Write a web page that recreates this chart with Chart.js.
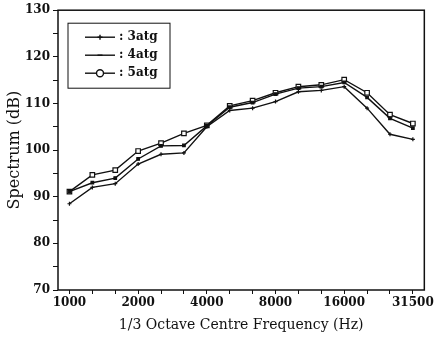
<!DOCTYPE html>
<html>
<head>
<meta charset="utf-8">
<script src="https://cdn.jsdelivr.net/npm/chart.js@4"></script>
<style>
html, body { margin: 0; padding: 0; background: #fff; }
#wrap { width: 436px; height: 338px; }
</style>
</head>
<body>
<div id="wrap"><canvas id="chart"></canvas></div>
<script>
// 1/3 octave bands
const freqs = ['1000', '1250', '1600', '2000', '2500', '3150', '4000', '5000', '6300', '8000', '10000', '12500', '16000', '20000', '25000', '31500'];
const labeledFreqs = ['1000', '2000', '4000', '8000', '16000', '31500'];
const yTicks = [70, 80, 90, 100, 110, 120, 130];

// Spectrum levels (dB)
const atg3 = [88.5, 92, 92.8, 97, 99.1, 99.4, 105, 108.5, 109, 110.4, 112.5, 112.8, 113.6, 109, 103.4, 102.3];
const atg4 = [91.1, 93, 94, 98.1, 100.9, 101, 105.2, 109.2, 110.2, 112, 113.3, 113.6, 114.5, 111.3, 106.8, 104.7];
const atg5 = [91.1, 94.7, 95.7, 99.8, 101.5, 103.6, 105.3, 109.5, 110.6, 112.3, 113.6, 114, 115.1, 112.3, 107.6, 105.7];

const tickFont = { family: 'DejaVu Serif', size: 12, weight: 'bold' };

function series(label, data, style, radius, fill) {
    return {
        label: label,
        data: data,
        borderColor: '#111',
        borderWidth: 1.4,
        pointStyle: style,
        pointRadius: radius,
        pointBorderColor: '#111',
        pointBorderWidth: 1.2,
        pointBackgroundColor: fill,
        tension: 0
    };
}

// box around the plot area
const frame = {
    id: 'frame',
    afterDraw(chart) {
        const { ctx, chartArea: a } = chart;
        ctx.save();
        ctx.strokeStyle = '#111';
        ctx.lineWidth = 1.5;
        ctx.strokeRect(a.left, a.top, a.right - a.left, a.bottom - a.top);
        ctx.restore();
    }
};

// boxed legend inside the plot, line with marker
const legendMarks = ['cross', 'line', 'circle'];
const boxLegend = {
    id: 'boxLegend',
    afterDraw(chart) {
        const { ctx, chartArea: a } = chart;
        const x0 = a.left + 10, y0 = a.top + 13;
        ctx.save();
        ctx.strokeStyle = '#111';
        ctx.lineWidth = 1;
        ctx.strokeRect(x0, y0, 102, 65);
        ctx.textBaseline = 'middle';
        chart.data.datasets.forEach((ds, i) => {
            const y = y0 + 14 + i * 18;
            ctx.strokeStyle = '#111';
            ctx.lineWidth = 1.4;
            ctx.beginPath();
            ctx.moveTo(x0 + 17, y);
            ctx.lineTo(x0 + 47, y);
            ctx.stroke();
            ctx.fillStyle = ds.pointBackgroundColor;
            Chart.helpers.drawPoint(ctx, {
                pointStyle: legendMarks[i],
                radius: i === 2 ? 3.5 : 2.5,
                borderWidth: 1.2
            }, x0 + 32, y);
            ctx.fillStyle = '#111';
            ctx.font = 'bold 12px "DejaVu Serif"';
            ctx.fillText(': ' + ds.label, x0 + 51, y);
        });
        ctx.restore();
    }
};

new Chart(document.getElementById('chart'), {
    type: 'line',
    data: {
        labels: freqs,
        datasets: [
            series('3atg', atg3, 'cross', 2, '#111'),
            series('4atg', atg4, 'rect', 1.8, '#111'),
            series('5atg', atg5, 'rect', 3.2, '#fff')
        ]
    },
    options: {
        responsive: true,
        maintainAspectRatio: false,
        animation: false,
        layout: { padding: { top: 8, right: 8, left: 0, bottom: 0 } },
        plugins: {
            legend: { display: false },
            tooltip: { enabled: false }
        },
        scales: {
            x: {
                offset: true,
                grid: { display: true, drawOnChartArea: false, tickLength: 4, color: '#111', offset: false },
                border: { display: false },
                ticks: {
                    autoSkip: false,
                    maxRotation: 0,
                    color: '#111',
                    font: tickFont,
                    padding: 2,
                    callback: function (v) {
                        const f = freqs[v];
                        return labeledFreqs.includes(f) ? f : '';
                    }
                },
                title: {
                    display: true,
                    text: '1/3 Octave Centre Frequency (Hz)',
                    color: '#111',
                    font: { family: 'DejaVu Serif', size: 14 },
                    padding: { top: 0, bottom: 4 }
                },
                afterFit(scale) { scale.height = 48; }
            },
            y: {
                min: yTicks[0],
                max: yTicks[yTicks.length - 1],
                grid: { display: true, drawOnChartArea: false, tickLength: 5, color: '#111' },
                border: { display: false },
                ticks: {
                    stepSize: 5,
                    color: '#111',
                    font: tickFont,
                    padding: 3,
                    callback: function (v) {
                        return yTicks.includes(v) ? v : '';
                    }
                },
                title: {
                    display: true,
                    text: 'Spectrum (dB)',
                    color: '#111',
                    font: { family: 'DejaVu Serif', size: 16 },
                    padding: { top: 5, bottom: 0 }
                },
                afterFit(scale) { scale.width = 58; }
            }
        }
    },
    plugins: [frame, boxLegend]
});
</script>
</body>
</html>
